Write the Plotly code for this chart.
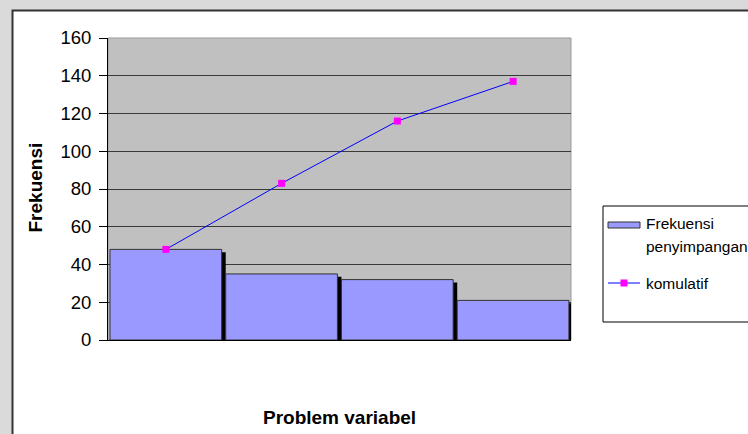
import plotly.graph_objects as go

# Pareto data: frequency per problem variable and cumulative total
categories = ["1", "2", "3", "4"]
frekuensi = [48, 35, 32, 21]
komulatif = [48, 83, 116, 137]

FONT = "Liberation Sans, Arial, sans-serif"

W, H = 748, 434
L, R, T, B = 108, 177, 38, 94
pw, ph = W - L - R, H - T - B


def px(x):
    return (x - L) / pw


def py(y):
    return (H - B - y) / ph


xs = list(range(len(categories)))

fig = go.Figure()

# drop shadow behind the bars
fig.add_trace(go.Bar(
    x=xs, y=frekuensi, base=-1.5, width=0.965, offset=-0.448,
    marker=dict(color="black", line=dict(width=0)),
    hoverinfo="skip", showlegend=False,
))
# frequency bars
fig.add_trace(go.Bar(
    x=xs, y=frekuensi, width=0.965, offset=-0.483,
    marker=dict(color="#9999FF", line=dict(color="#333333", width=1)),
    name="Frekuensi penyimpangan", showlegend=False,
))
# cumulative line
fig.add_trace(go.Scatter(
    x=xs, y=komulatif, mode="lines+markers",
    line=dict(color="#0000FF", width=1),
    marker=dict(symbol="square", size=7, color="#FF00FF"),
    name="komulatif", showlegend=False,
))

shapes = [
    # white chart area with black frame
    dict(type="rect", xref="paper", yref="paper", layer="below",
         x0=px(12.5), x1=px(760), y0=py(445), y1=py(10.5),
         fillcolor="white", line=dict(color="#333333", width=2)),
    # grey plot area
    dict(type="rect", xref="paper", yref="paper", layer="below",
         x0=0, x1=1, y0=0, y1=1,
         fillcolor="#C0C0C0", line=dict(color="#999999", width=1)),
    # legend frame
    dict(type="rect", xref="paper", yref="paper",
         x0=px(603), x1=px(760), y0=py(322), y1=py(206),
         fillcolor="white", line=dict(color="black", width=1)),
    # legend swatch for bars
    dict(type="rect", xref="paper", yref="paper",
         x0=px(608), x1=px(640), y0=py(228), y1=py(222),
         fillcolor="#9999FF", line=dict(color="#333333", width=1)),
    # legend line sample
    dict(type="line", xref="paper", yref="paper",
         x0=px(608), x1=px(640), y0=py(283), y1=py(283),
         line=dict(color="#0000FF", width=1)),
    dict(type="rect", xref="paper", yref="paper",
         x0=px(620.5), x1=px(627.5), y0=py(286.5), y1=py(279.5),
         fillcolor="#FF00FF", line=dict(width=0)),
]

annotations = [
    dict(text="<b>Frekuensi</b>", textangle=-90, xref="paper", yref="paper",
         x=px(35), y=py(187.5), showarrow=False, xanchor="center", yanchor="middle",
         font=dict(family=FONT, size=19, color="black")),
    dict(text="<b>Problem variabel</b>", xref="paper", yref="paper",
         x=px(339.5), y=py(417), showarrow=False, xanchor="center", yanchor="middle",
         font=dict(family=FONT, size=19, color="black")),
    dict(text="Frekuensi", xref="paper", yref="paper",
         x=px(644), y=py(223), showarrow=False, xanchor="left", yanchor="middle",
         font=dict(family=FONT, size=15.5, color="black")),
    dict(text="penyimpangan", xref="paper", yref="paper",
         x=px(644), y=py(246), showarrow=False, xanchor="left", yanchor="middle",
         font=dict(family=FONT, size=15.5, color="black")),
    dict(text="komulatif", xref="paper", yref="paper",
         x=px(644), y=py(283), showarrow=False, xanchor="left", yanchor="middle",
         font=dict(family=FONT, size=15.5, color="black")),
]

fig.update_layout(
    width=W, height=H,
    margin=dict(l=L, r=R, t=T, b=B, pad=0),
    paper_bgcolor="#DADADA",
    plot_bgcolor="rgba(0,0,0,0)",
    barmode="overlay",
    shapes=shapes,
    annotations=annotations,
    showlegend=False,
    font=dict(family=FONT, color="black"),
    xaxis=dict(range=[-0.5, len(categories) - 0.5], showticklabels=False,
               showgrid=False, zeroline=False, showline=True,
               linecolor="black", linewidth=1, ticks=""),
    yaxis=dict(range=[0, 160], dtick=20, showgrid=True, gridcolor="#3A3A3A",
               gridwidth=1, zeroline=False, showline=True, linecolor="black",
               linewidth=1, ticks="outside", ticklen=8, tickcolor="black",
               ticklabelstandoff=4,
               tickfont=dict(family=FONT, size=18.5, color="black")),
)

fig.write_html("out.html")
